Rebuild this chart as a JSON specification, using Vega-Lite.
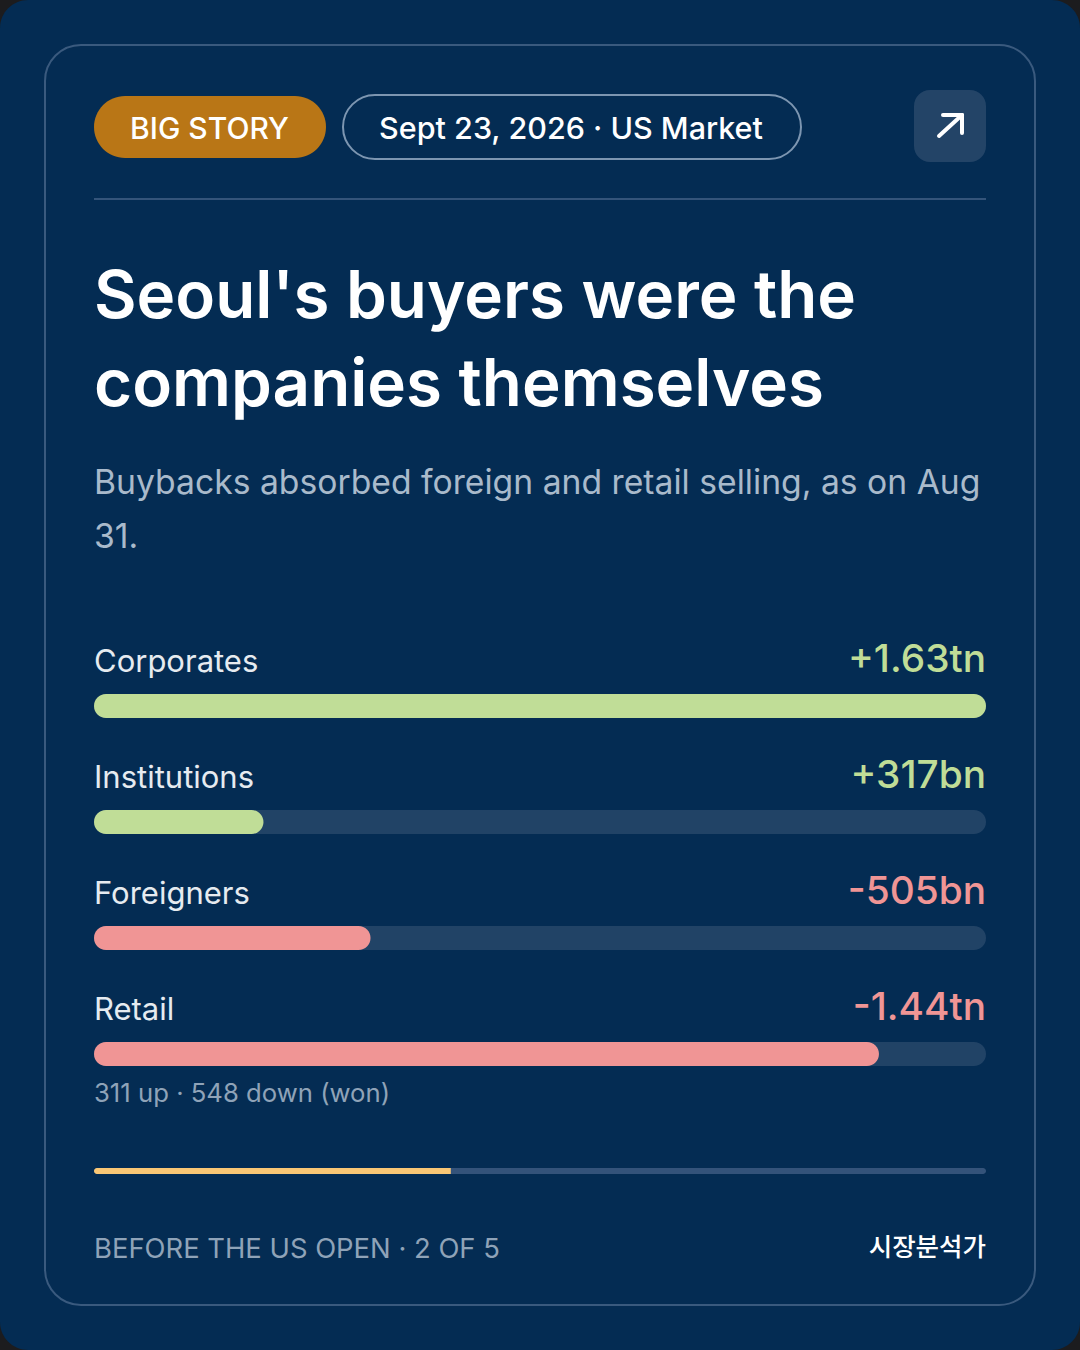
{
 "$schema":"https://vega.github.io/schema/vega-lite/v6.json",
 "width":1080,"height":1350,"padding":0,
 "autosize":{"type":"fit","contains":"padding"},
 "background":"#1c1c1e",
 "view":{"fill":"#042c53","cornerRadius":28,"stroke":null},
 "config":{"font":"Inter","axis":{"disable":true},"legend":{"disable":true}},
 "datasets":{
  "flows":[
   {"group":"Corporates","label":"+1.63tn","share":100,"side":"net buyer"},
   {"group":"Institutions","label":"+317bn","share":19,"side":"net buyer"},
   {"group":"Foreigners","label":"-505bn","share":31,"side":"net seller"},
   {"group":"Retail","label":"-1.44tn","share":88,"side":"net seller"}
  ]
 },
 "resolve":{"scale":{"x":"independent","y":"independent"}},
 "layer":[
  {"data":{"values":[{"shape":"card"}]},
   "mark":{"type":"rect","fill":"#042c53","stroke":"#3a5a7e","strokeWidth":2,"cornerRadius":36},
   "encoding":{
    "x":{"datum":45,"type":"quantitative","scale":{"domain":[0,1080],"range":[0,1080]}},"x2":{"datum":1035},
    "y":{"datum":45,"type":"quantitative","scale":{"domain":[0,1350],"range":[0,1350]}},"y2":{"datum":1305}}},
  {"data":{"values":[{"shape":"badge"}]},
   "mark":{"type":"rect","fill":"#b97616","cornerRadius":31},
   "encoding":{
    "x":{"datum":94,"type":"quantitative","scale":{"domain":[0,1080],"range":[0,1080]}},"x2":{"datum":326},
    "y":{"datum":96,"type":"quantitative","scale":{"domain":[0,1350],"range":[0,1350]}},"y2":{"datum":158}}},
  {"data":{"values":[{"shape":"pill"}]},
   "mark":{"type":"rect","fill":"#042c53","stroke":"#7d96b1","strokeWidth":2,"cornerRadius":32},
   "encoding":{
    "x":{"datum":343,"type":"quantitative","scale":{"domain":[0,1080],"range":[0,1080]}},"x2":{"datum":801},
    "y":{"datum":95,"type":"quantitative","scale":{"domain":[0,1350],"range":[0,1350]}},"y2":{"datum":159}}},
  {"data":{"values":[{"shape":"button"}]},
   "mark":{"type":"rect","fill":"#234467","cornerRadius":16},
   "encoding":{
    "x":{"datum":914,"type":"quantitative","scale":{"domain":[0,1080],"range":[0,1080]}},"x2":{"datum":986},
    "y":{"datum":90,"type":"quantitative","scale":{"domain":[0,1350],"range":[0,1350]}},"y2":{"datum":162}}},
  {"data":{"values":[{"shape":"arrow shaft"}]},
   "mark":{"type":"rule","color":"#ffffff","strokeWidth":4,"strokeCap":"round"},
   "encoding":{
    "x":{"datum":939,"type":"quantitative","scale":{"domain":[0,1080],"range":[0,1080]}},"x2":{"datum":962},
    "y":{"datum":136,"type":"quantitative","scale":{"domain":[0,1350],"range":[0,1350]}},"y2":{"datum":115}}},
  {"data":{"values":[{"shape":"arrow top"}]},
   "mark":{"type":"rule","color":"#ffffff","strokeWidth":4,"strokeCap":"round"},
   "encoding":{
    "x":{"datum":943,"type":"quantitative","scale":{"domain":[0,1080],"range":[0,1080]}},"x2":{"datum":962},
    "y":{"datum":115,"type":"quantitative","scale":{"domain":[0,1350],"range":[0,1350]}},"y2":{"datum":115}}},
  {"data":{"values":[{"shape":"arrow side"}]},
   "mark":{"type":"rule","color":"#ffffff","strokeWidth":4,"strokeCap":"round"},
   "encoding":{
    "x":{"datum":962,"type":"quantitative","scale":{"domain":[0,1080],"range":[0,1080]}},"x2":{"datum":962},
    "y":{"datum":115,"type":"quantitative","scale":{"domain":[0,1350],"range":[0,1350]}},"y2":{"datum":133}}},
  {"data":{"values":[{"shape":"divider"}]},
   "mark":{"type":"rect","fill":"#34547a"},
   "encoding":{
    "x":{"datum":94,"type":"quantitative","scale":{"domain":[0,1080],"range":[0,1080]}},"x2":{"datum":986},
    "y":{"datum":198,"type":"quantitative","scale":{"domain":[0,1350],"range":[0,1350]}},"y2":{"datum":200}}},

  {"data":{"values":[{"text":"BIG STORY"}]},
   "mark":{"type":"text","align":"center","baseline":"alphabetic","fontSize":30,"fontWeight":500,"color":"#ffffff"},
   "encoding":{"text":{"field":"text"},
    "x":{"datum":209.5,"type":"quantitative","scale":{"domain":[0,1080],"range":[0,1080]}},
    "y":{"datum":138.5,"type":"quantitative","scale":{"domain":[0,1350],"range":[0,1350]}}}},
  {"data":{"values":[{"text":"Sept 23, 2026 · US Market"}]},
   "mark":{"type":"text","align":"center","baseline":"alphabetic","fontSize":30.5,"fontWeight":500,"color":"#ffffff"},
   "encoding":{"text":{"field":"text"},
    "x":{"datum":571,"type":"quantitative","scale":{"domain":[0,1080],"range":[0,1080]}},
    "y":{"datum":138.5,"type":"quantitative","scale":{"domain":[0,1350],"range":[0,1350]}}}},
  {"data":{"values":[{"text":"Seoul's buyers were the"}]},
   "mark":{"type":"text","align":"left","baseline":"alphabetic","fontSize":65.5,"fontWeight":600,"color":"#ffffff"},
   "encoding":{"text":{"field":"text"},
    "x":{"datum":94,"type":"quantitative","scale":{"domain":[0,1080],"range":[0,1080]}},
    "y":{"datum":318,"type":"quantitative","scale":{"domain":[0,1350],"range":[0,1350]}}}},
  {"data":{"values":[{"text":"companies themselves"}]},
   "mark":{"type":"text","align":"left","baseline":"alphabetic","fontSize":65.5,"fontWeight":600,"color":"#ffffff"},
   "encoding":{"text":{"field":"text"},
    "x":{"datum":94,"type":"quantitative","scale":{"domain":[0,1080],"range":[0,1080]}},
    "y":{"datum":406,"type":"quantitative","scale":{"domain":[0,1350],"range":[0,1350]}}}},
  {"data":{"values":[{"text":"Buybacks absorbed foreign and retail selling, as on Aug"}]},
   "mark":{"type":"text","align":"left","baseline":"alphabetic","fontSize":33.7,"fontWeight":400,"color":"#a9bacb"},
   "encoding":{"text":{"field":"text"},
    "x":{"datum":94,"type":"quantitative","scale":{"domain":[0,1080],"range":[0,1080]}},
    "y":{"datum":494,"type":"quantitative","scale":{"domain":[0,1350],"range":[0,1350]}}}},
  {"data":{"values":[{"text":"31."}]},
   "mark":{"type":"text","align":"left","baseline":"alphabetic","fontSize":33.7,"fontWeight":400,"color":"#a9bacb"},
   "encoding":{"text":{"field":"text"},
    "x":{"datum":94,"type":"quantitative","scale":{"domain":[0,1080],"range":[0,1080]}},
    "y":{"datum":548,"type":"quantitative","scale":{"domain":[0,1350],"range":[0,1350]}}}},

  {"data":{"name":"flows"},
   "mark":{"type":"text","align":"left","baseline":"alphabetic","fontSize":31,"fontWeight":400,"color":"#e6ebf0"},
   "encoding":{"text":{"field":"group"},
    "x":{"datum":94,"type":"quantitative","scale":{"domain":[0,1080],"range":[0,1080]}},
    "y":{"field":"group","type":"nominal","sort":null,"scale":{"type":"point","padding":0,"domain":["Corporates","Institutions","Foreigners","Retail"],"range":[672,1020]}}}},
  {"data":{"name":"flows"},
   "mark":{"type":"text","align":"right","baseline":"alphabetic","fontSize":38.8,"fontWeight":500},
   "encoding":{"text":{"field":"label"},
    "x":{"datum":986,"type":"quantitative","scale":{"domain":[0,1080],"range":[0,1080]}},
    "y":{"field":"group","type":"nominal","sort":null,"scale":{"type":"point","padding":0,"domain":["Corporates","Institutions","Foreigners","Retail"],"range":[672,1020]}},
    "color":{"field":"side","type":"nominal","legend":null,"scale":{"domain":["net buyer","net seller"],"range":["#c0dd97","#f09595"]}}}},
  {"data":{"name":"flows"},
   "mark":{"type":"bar","size":24,"cornerRadius":12,"color":"#214366"},
   "encoding":{
    "x":{"datum":100,"type":"quantitative","scale":{"domain":[0,100],"range":[94,986]}},"x2":{"datum":0},
    "y":{"field":"group","type":"nominal","sort":null,"scale":{"type":"point","padding":0,"domain":["Corporates","Institutions","Foreigners","Retail"],"range":[706,1054]}}}},
  {"data":{"name":"flows"},
   "mark":{"type":"bar","size":24,"cornerRadius":12},
   "encoding":{
    "x":{"field":"share","type":"quantitative","scale":{"domain":[0,100],"range":[94,986]}},"x2":{"datum":0},
    "y":{"field":"group","type":"nominal","sort":null,"scale":{"type":"point","padding":0,"domain":["Corporates","Institutions","Foreigners","Retail"],"range":[706,1054]}},
    "color":{"field":"side","type":"nominal","legend":null,"scale":{"domain":["net buyer","net seller"],"range":["#c0dd97","#f09595"]}}}},

  {"data":{"values":[{"text":"311 up · 548 down (won)"}]},
   "mark":{"type":"text","align":"left","baseline":"alphabetic","fontSize":25.7,"fontWeight":400,"color":"#8fa3b8"},
   "encoding":{"text":{"field":"text"},
    "x":{"datum":94,"type":"quantitative","scale":{"domain":[0,1080],"range":[0,1080]}},
    "y":{"datum":1102,"type":"quantitative","scale":{"domain":[0,1350],"range":[0,1350]}}}},
  {"data":{"values":[{"part":"reading progress","to":100}]},
   "mark":{"type":"rect","cornerRadius":3,"color":"#34537a"},
   "encoding":{
    "x":{"field":"to","type":"quantitative","scale":{"domain":[0,100],"range":[94,986]}},"x2":{"datum":0},
    "y":{"datum":1168,"type":"quantitative","scale":{"domain":[0,1350],"range":[0,1350]}},"y2":{"datum":1174}}},
  {"data":{"values":[{"part":"reading progress","to":40}]},
   "mark":{"type":"rect","cornerRadiusTopLeft":3,"cornerRadiusBottomLeft":3,"color":"#fac775"},
   "encoding":{
    "x":{"field":"to","type":"quantitative","scale":{"domain":[0,100],"range":[94,986]}},"x2":{"datum":0},
    "y":{"datum":1168,"type":"quantitative","scale":{"domain":[0,1350],"range":[0,1350]}},"y2":{"datum":1174}}},
  {"data":{"values":[{"text":"BEFORE THE US OPEN · 2 OF 5"}]},
   "mark":{"type":"text","align":"left","baseline":"alphabetic","fontSize":27.4,"fontWeight":400,"color":"#8fa3b8"},
   "encoding":{"text":{"field":"text"},
    "x":{"datum":94,"type":"quantitative","scale":{"domain":[0,1080],"range":[0,1080]}},
    "y":{"datum":1258,"type":"quantitative","scale":{"domain":[0,1350],"range":[0,1350]}}}},
  {"data":{"values":[{"text":"시장분석가"}]},
   "mark":{"type":"text","align":"right","baseline":"alphabetic","font":"Noto Sans CJK KR","fontSize":25.5,"fontWeight":500,"color":"#ffffff"},
   "encoding":{"text":{"field":"text"},
    "x":{"datum":986,"type":"quantitative","scale":{"domain":[0,1080],"range":[0,1080]}},
    "y":{"datum":1256,"type":"quantitative","scale":{"domain":[0,1350],"range":[0,1350]}}}}
 ]
}
